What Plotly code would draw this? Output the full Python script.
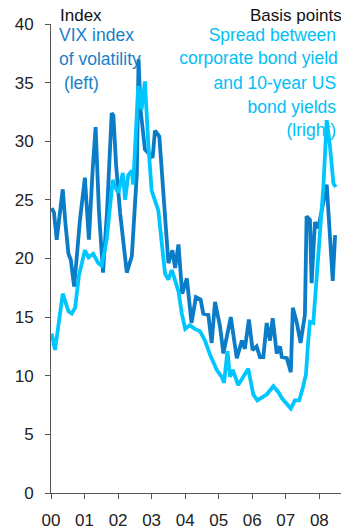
import plotly.graph_objects as go

# ---- data ----
vix_dates = [2000.02, 2000.09, 2000.17, 2000.25, 2000.35, 2000.43, 2000.52, 2000.59, 2000.69, 2000.78,
             2000.86, 2001.01, 2001.13, 2001.24, 2001.33, 2001.43, 2001.55, 2001.67, 2001.81, 2001.86,
             2001.94, 2002.06, 2002.16, 2002.26, 2002.41, 2002.56, 2002.61, 2002.67, 2002.80, 2003.03,
             2003.10, 2003.23, 2003.35, 2003.45, 2003.50, 2003.62, 2003.70, 2003.80, 2003.91, 2004.05,
             2004.19, 2004.32, 2004.46, 2004.54, 2004.69, 2004.79, 2004.89, 2005.04, 2005.14, 2005.36,
             2005.54, 2005.69, 2005.78, 2005.90, 2006.01, 2006.13, 2006.23, 2006.33, 2006.43, 2006.53,
             2006.61, 2006.73, 2006.83, 2006.88, 2007.03, 2007.15, 2007.21, 2007.33, 2007.44, 2007.57,
             2007.62, 2007.72, 2007.77, 2007.87, 2007.97, 2008.22, 2008.40, 2008.47]
vix_values = [24.3, 23.9, 21.6, 23.5, 25.9, 23.0, 20.4, 19.9, 17.6, 20.5,
              23.2, 26.9, 21.6, 27.5, 31.2, 24.0, 18.8, 24.0, 32.4, 32.2,
              28.0, 23.9, 21.0, 18.8, 20.2, 27.3, 37.0, 32.7, 29.3, 28.6,
              30.9, 30.4, 25.6, 21.6, 19.6, 20.7, 19.2, 21.2, 17.0, 18.3,
              14.5, 16.7, 16.5, 15.3, 15.2, 12.8, 16.3, 14.2, 11.9, 15.0,
              11.5, 13.0, 12.3, 14.8, 12.2, 12.5, 11.6, 11.6, 14.5, 13.0,
              14.9, 11.9, 12.5, 11.6, 11.5, 10.3, 15.8, 14.5, 12.8, 15.2,
              23.6, 23.3, 17.9, 23.1, 22.6, 26.3, 18.1, 22.0]

spread_dates = [2000.02, 2000.12, 2000.35, 2000.52, 2000.62, 2000.72, 2000.83, 2001.01, 2001.12, 2001.26,
                2001.41, 2001.51, 2001.66, 2001.84, 2001.91, 2002.01, 2002.14, 2002.21, 2002.30, 2002.41,
                2002.45, 2002.56, 2002.60, 2002.70, 2002.80, 2002.90, 2003.00, 2003.20, 2003.40, 2003.50,
                2003.60, 2003.65, 2003.75, 2003.80, 2003.90, 2004.00, 2004.14, 2004.29, 2004.44, 2004.59,
                2004.74, 2004.94, 2005.09, 2005.16, 2005.26, 2005.34, 2005.42, 2005.58, 2005.88, 2005.93,
                2006.03, 2006.15, 2006.33, 2006.43, 2006.63, 2006.78, 2006.88, 2007.03, 2007.15, 2007.27,
                2007.40, 2007.52, 2007.60, 2007.67, 2007.72, 2007.82, 2007.92, 2008.02, 2008.12, 2008.22,
                2008.32, 2008.42, 2008.49]
spread_values = [13.6, 12.2, 17.0, 15.5, 15.3, 15.8, 18.5, 20.7, 20.1, 20.4,
                 19.6, 19.4, 21.6, 26.7, 26.1, 25.6, 27.3, 25.0, 27.1, 27.5,
                 26.3, 32.7, 34.7, 32.7, 35.1, 29.8, 25.8, 24.1, 18.7, 18.2,
                 19.0, 18.6, 17.6, 17.2, 15.3, 14.0, 14.3, 14.0, 13.8, 13.0,
                 11.8, 10.5, 9.9, 9.4, 12.1, 9.9, 10.5, 9.2, 10.6, 9.9,
                 8.4, 7.9, 8.2, 8.4, 9.1, 8.6, 8.1, 7.6, 7.2, 7.9,
                 7.9, 9.1, 10.1, 13.0, 14.6, 14.5, 18.4, 22.7, 26.1, 31.8,
                 29.5, 26.4, 26.1]

year_ticks = [2000, 2001, 2002, 2003, 2004, 2005, 2006, 2007, 2008]
year_labels = ["00", "01", "02", "03", "04", "05", "06", "07", "08"]
y_ticks = [0, 5, 10, 15, 20, 25, 30, 35, 40]

left_labels = ["VIX index", "of volatility", " (left)"]
right_labels = ["Spread between", "corporate bond yield", "and 10-year US", "bond yields", "(lright)"]

DARK = "#0B7CC7"
CYAN = "#00C6FF"
FONT = "Liberation Sans, Arial, sans-serif"

fig = go.Figure()

# text layers (drawn beneath the lines, as in the reference)
txt = dict(mode="text", cliponaxis=False, hoverinfo="skip", showlegend=False)
fig.add_trace(go.Scatter(x=[2000.24, 2000.24, 2000.24], y=[38.90, 36.88, 34.82], text=left_labels,
                         textposition="middle right",
                         textfont=dict(family=FONT, size=17.5, color="#1A7FC8"), **txt))
fig.add_trace(go.Scatter(x=[2008.50, 2008.55, 2008.50, 2008.50, 2008.50],
                         y=[38.90, 36.92, 34.82, 32.78, 30.78], text=right_labels,
                         textposition="middle left",
                         textfont=dict(family=FONT, size=17.5, color="#00BFF5"), **txt))

# series lines
fig.add_trace(go.Scatter(x=vix_dates, y=vix_values, mode="lines",
                         line=dict(color=DARK, width=3.8), showlegend=False, cliponaxis=False))
fig.add_trace(go.Scatter(x=spread_dates, y=spread_values, mode="lines",
                         line=dict(color=CYAN, width=3.8), showlegend=False, cliponaxis=False))

fig.update_layout(
    width=341, height=531, autosize=False,
    margin=dict(l=51, r=0, t=24, b=38, pad=0),
    paper_bgcolor="white", plot_bgcolor="white",
    showlegend=False,
    font=dict(family=FONT, size=17, color="#222222"),
    annotations=[
        dict(text="Index", xref="paper", yref="paper", x=0.026, y=1.0175,
             xanchor="left", yanchor="middle", showarrow=False, borderpad=0,
             font=dict(family=FONT, size=17, color="#111111")),
        dict(text="Basis points", xref="paper", yref="paper", x=1.008, y=1.0175,
             xanchor="right", yanchor="middle", showarrow=False, borderpad=0,
             font=dict(family=FONT, size=17, color="#111111")),
    ],
)
fig.update_xaxes(range=[2000, 2008.646], tickmode="array", tickvals=year_ticks, ticktext=year_labels,
                 showgrid=False, zeroline=False, showline=True, linecolor="#555555", linewidth=1,
                 ticks="outside", ticklen=5, tickcolor="#555555", ticklabelstandoff=7,
                 tickfont=dict(family=FONT, size=17, color="#222222"))
fig.update_yaxes(range=[0, 40], tickmode="array", tickvals=y_ticks,
                 showgrid=False, zeroline=False, showline=True, linecolor="#555555", linewidth=1,
                 ticks="outside", ticklen=5, tickcolor="#555555", ticklabelstandoff=8,
                 tickfont=dict(family=FONT, size=17, color="#222222"))

fig.write_html("out.html")
